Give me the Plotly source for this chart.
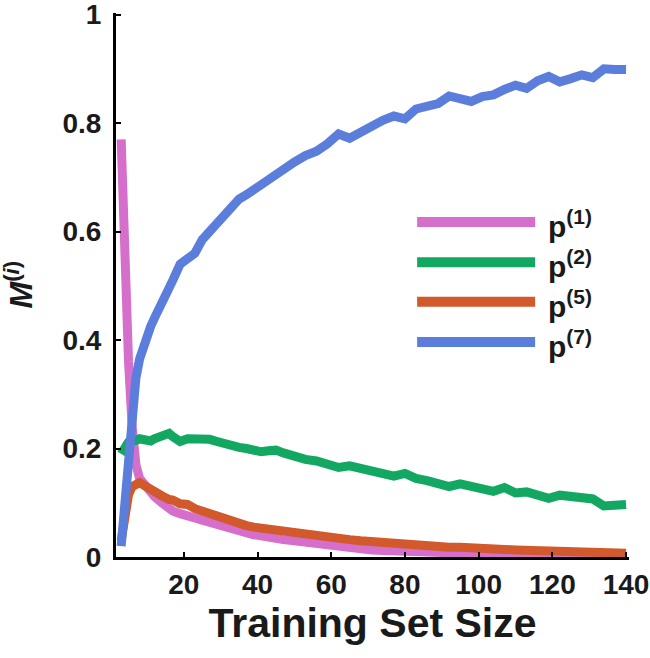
import plotly.graph_objects as go

# ---- data ----
x_vals = [3, 4, 5, 6, 7, 8, 9, 10, 11, 12, 14, 16, 17, 19, 21, 23, 25, 27, 29, 31, 33, 35, 37, 39,
          41, 43, 45, 47, 50, 53, 56, 59, 62, 65, 68, 71, 74, 77, 80, 83, 86, 89, 92, 95, 98,
          101, 104, 107, 110, 113, 116, 119, 122, 125, 128, 131, 134, 137, 140]

p1 = [0.77, 0.52, 0.36, 0.24, 0.17, 0.145, 0.135, 0.125, 0.118, 0.112, 0.1, 0.088, 0.085, 0.08,
      0.078, 0.072, 0.068, 0.064, 0.058, 0.054, 0.05, 0.047, 0.044, 0.041, 0.039, 0.036, 0.034,
      0.032, 0.03, 0.027, 0.024, 0.021, 0.019, 0.017, 0.015, 0.013, 0.012, 0.011, 0.01, 0.009,
      0.008, 0.007, 0.006, 0.005, 0.005, 0.004, 0.004, 0.003, 0.003, 0.003, 0.003, 0.002, 0.002,
      0.002, 0.002, 0.002, 0.002, 0.002, 0.002]

p2 = [0.19, 0.205, 0.212, 0.218, 0.215, 0.218, 0.216, 0.217, 0.214, 0.218, 0.222, 0.228, 0.222,
      0.213, 0.218, 0.219, 0.216, 0.217, 0.213, 0.208, 0.204, 0.202, 0.2, 0.196, 0.194, 0.196,
      0.197, 0.192, 0.184, 0.18, 0.177, 0.17, 0.165, 0.168, 0.164, 0.16, 0.154, 0.149, 0.154,
      0.145, 0.141, 0.137, 0.13, 0.135, 0.13, 0.127, 0.121, 0.128, 0.118, 0.12, 0.115, 0.108,
      0.114, 0.112, 0.108, 0.107, 0.094, 0.096, 0.097]

p5 = [0.03, 0.08, 0.115, 0.13, 0.136, 0.137, 0.133, 0.128, 0.126, 0.123, 0.113, 0.106, 0.105,
      0.098, 0.097, 0.089, 0.084, 0.081, 0.074, 0.07, 0.066, 0.062, 0.058, 0.055, 0.053, 0.05,
      0.049, 0.047, 0.044, 0.04, 0.038, 0.036, 0.034, 0.032, 0.03, 0.028, 0.027, 0.025, 0.023,
      0.022, 0.021, 0.02, 0.018, 0.018, 0.016, 0.016, 0.015, 0.014, 0.013, 0.012, 0.011, 0.011,
      0.01, 0.009, 0.009, 0.008, 0.008, 0.007, 0.007]

p7 = [0.02, 0.11, 0.2, 0.28, 0.33, 0.365, 0.39, 0.41, 0.425, 0.44, 0.465, 0.49, 0.51, 0.54, 0.55,
      0.56, 0.585, 0.6, 0.615, 0.63, 0.645, 0.66, 0.668, 0.678, 0.688, 0.697, 0.706, 0.715,
      0.728, 0.74, 0.748, 0.762, 0.78, 0.772, 0.784, 0.792, 0.805, 0.813, 0.808, 0.826, 0.83,
      0.836, 0.85, 0.845, 0.84, 0.849, 0.852, 0.862, 0.87, 0.864, 0.878, 0.886, 0.876, 0.882,
      0.889, 0.884, 0.9, 0.899, 0.899]

series_names = ["p<sup>(1)</sup>", "p<sup>(2)</sup>", "p<sup>(5)</sup>", "p<sup>(7)</sup>"]
series_values = [p1, p2, p5, p7]
colors = ["#D66FCB", "#12A862", "#D2592B", "#5B7EDC"]

x_ticks = [20, 40, 60, 80, 100, 120, 140]
y_ticks = [0, 0.2, 0.4, 0.6, 0.8, 1]
y_tick_text = ["0", "0.2", "0.4", "0.6", "0.8", "1"]

FONT = "Liberation Sans, Arial, sans-serif"

fig = go.Figure()
for name, vals, col in zip(series_names, series_values, colors):
    fig.add_trace(go.Scatter(x=x_vals, y=vals, mode="lines", name=name,
                             line=dict(color=col, width=9), showlegend=False))

# manual legend (long line samples like the reference)
leg_y = [0.616, 0.542, 0.469, 0.395]
for name, col, yy in zip(series_names, colors, leg_y):
    fig.add_shape(type="line", xref="paper", yref="paper", x0=0.587, x1=0.817, y0=yy, y1=yy,
                  line=dict(color=col, width=10))
    fig.add_annotation(xref="paper", yref="paper", x=0.838, y=yy - 0.004, text="<b>" + name + "</b>",
                       showarrow=False, xanchor="left", yanchor="middle",
                       font=dict(family=FONT, size=30, color="#1a1a1a"))

fig.add_annotation(xref="paper", yref="paper", x=-0.19, y=0.5,
                   text="<b><i>M</i><sup>(<i>i</i>)</sup></b>", textangle=-90,
                   showarrow=False, xanchor="center", yanchor="middle",
                   font=dict(family=FONT, size=32, color="#1a1a1a"))

fig.update_layout(
    width=650, height=658,
    margin=dict(l=116, r=21, t=13, b=101),
    paper_bgcolor="white", plot_bgcolor="white",
    font=dict(family=FONT, color="#1a1a1a"),
    xaxis=dict(range=[1.6, 140.8], tickvals=x_ticks, showgrid=False, zeroline=False,
               showline=True, linecolor="black", linewidth=3, automargin=False,
               ticks="inside", ticklen=5, tickwidth=2, tickcolor="black",
               ticklabeloverflow="allow",
               tickfont=dict(family=FONT, size=28, color="#1a1a1a", weight="bold"),
               title=dict(text="<b>Training Set Size</b>", standoff=0,
                          font=dict(family=FONT, size=41, color="#1a1a1a"))),
    yaxis=dict(range=[0, 1.003], tickvals=y_ticks, ticktext=y_tick_text, showgrid=False,
               zeroline=False, showline=True, linecolor="black", linewidth=3, automargin=False,
               ticks="inside", ticklen=5, tickwidth=2, tickcolor="black",
               ticklabelstandoff=6, ticklabeloverflow="allow",
               tickfont=dict(family=FONT, size=28, color="#1a1a1a", weight="bold")),
)

fig.write_html("out.html", config={"displayModeBar": False},
               post_script="document.body.style.margin='0';document.body.style.overflow='hidden';")
